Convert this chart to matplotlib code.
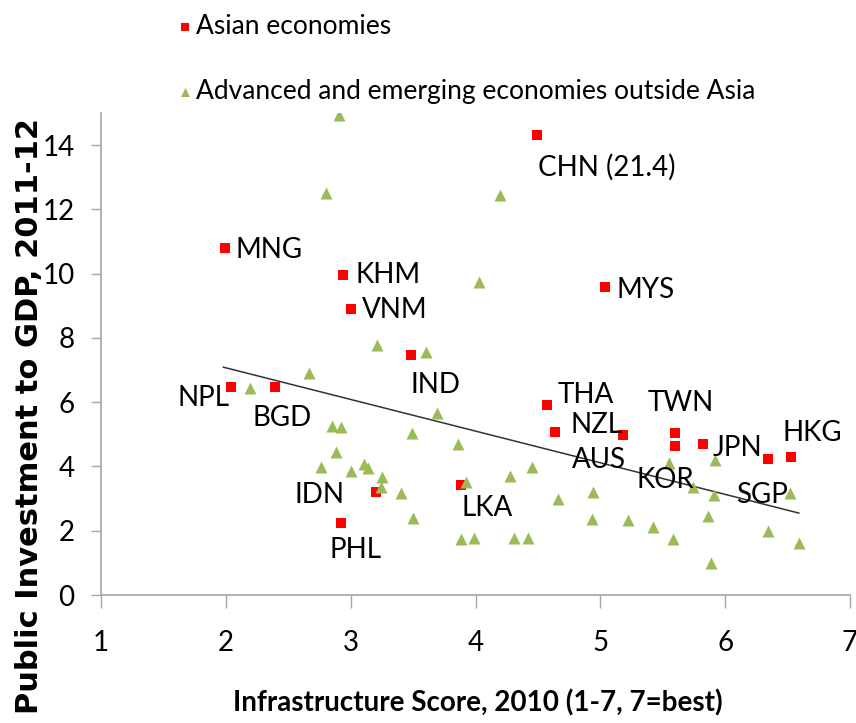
import matplotlib
matplotlib.use("Agg")
import matplotlib.pyplot as plt
from matplotlib import font_manager

# ─────────────────────────────────────────────────────────────
# Data
# ─────────────────────────────────────────────────────────────
asia_codes = ["MNG", "KHM", "VNM", "CHN", "MYS", "IND", "NPL", "BGD", "THA",
              "NZL", "AUS", "TWN", "KOR", "JPN", "SGP", "HKG", "LKA", "IDN", "PHL"]
asia_x = [1.99, 2.94, 3.00, 4.49, 5.04, 3.48, 2.04, 2.39, 4.57,
          4.64, 5.18, 5.60, 5.60, 5.82, 6.34, 6.53, 3.88, 3.20, 2.92]
asia_y = [10.8, 9.95, 8.9, 14.3, 9.6, 7.46, 6.47, 6.47, 5.9,
          5.07, 4.98, 5.04, 4.63, 4.70, 4.23, 4.29, 3.42, 3.2, 2.24]
asia_labels = ["MNG", "KHM", "VNM", "CHN (21.4)", "MYS", "IND", "NPL", "BGD", "THA",
               "NZL", "AUS", "TWN", "KOR", "JPN", "SGP", "HKG", "LKA", "IDN", "PHL"]

other_x = [2.91, 2.80, 4.20, 4.03, 3.21, 3.60, 2.67, 2.19, 3.69, 2.85,
           2.92, 3.49, 2.88, 2.76, 3.00, 3.11, 3.14, 3.25, 3.24, 3.40,
           3.50, 3.86, 3.92, 4.28, 4.45, 4.66, 4.94, 4.93, 5.22, 5.42,
           5.55, 5.58, 5.74, 5.92, 5.91, 5.86, 5.89, 6.34, 6.52, 6.59,
           3.88, 3.99, 4.31, 4.42]
other_y = [14.93, 12.5, 12.44, 9.74, 7.78, 7.56, 6.9, 6.43, 5.66, 5.26,
           5.22, 5.04, 4.45, 3.98, 3.86, 4.07, 3.95, 3.67, 3.36, 3.17,
           2.40, 4.70, 3.51, 3.70, 3.98, 2.99, 3.20, 2.36, 2.33, 2.11,
           4.10, 1.74, 3.36, 4.20, 3.11, 2.46, 1.00, 1.99, 3.17, 1.62,
           1.74, 1.77, 1.77, 1.77]

trend_x = [1.98, 6.59]
trend_y = [7.09, 2.55]

# label anchor positions (data coords)
label_x = [2.08, 3.04, 3.09, 4.50, 5.13, 3.48, 2.03, 2.21, 4.66,
           4.76, 4.77, 5.38, 5.29, 5.90, 6.09, 6.46, 3.89, 2.55, 2.83]
label_y = [10.73, 9.95, 8.86, 13.31, 9.49, 6.53, 6.13, 5.51, 6.22,
           5.29, 4.20, 5.97, 3.58, 4.57, 3.11, 5.04, 2.71, 3.11, 1.40]
label_ha = ["left"] * len(asia_codes)
label_ha[asia_codes.index("NPL")] = "right"

x_ticks = [1, 2, 3, 4, 5, 6, 7]
y_ticks = [0, 2, 4, 6, 8, 10, 12, 14]

# ─────────────────────────────────────────────────────────────
# Fonts: the original uses a narrow face, pick the narrowest we have
# ─────────────────────────────────────────────────────────────
names = {f.name for f in font_manager.fontManager.ttflist}
narrow = next((n for n in ["Liberation Sans Narrow", "Lato", "Roboto"] if n in names),
              "Liberation Sans")
plt.rcParams["font.family"] = [narrow, "DejaVu Sans"]
FS = 20

RED   = "#FF0000"
GREEN = "#9BBB59"
GRAY  = "#A6A6A6"

# ─────────────────────────────────────────────────────────────
# Figure
# ─────────────────────────────────────────────────────────────
fig = plt.figure(figsize=(8.56, 7.23), dpi=100)
ax = fig.add_axes([101 / 856, 1 - 595 / 723, (850 - 101) / 856, (595 - 113) / 723])

sq = ax.scatter(asia_x, asia_y, marker="s", s=60, color=RED, zorder=3,
                label="Asian economies", linewidths=0)
tr = ax.scatter(other_x, other_y, marker="^", s=75, color=GREEN, zorder=3,
                label="Advanced and emerging economies outside Asia", linewidths=0)
ax.plot(trend_x, trend_y, color="#333333", linewidth=1.1, zorder=2)

for lab, lx, ly, ha in zip(asia_labels, label_x, label_y, label_ha):
    ax.text(lx, ly, lab, ha=ha, va="center", fontsize=FS, zorder=4)

ax.set_xlim(1, 7)
ax.set_ylim(0, 15)
ax.set_xticks(x_ticks)
ax.set_yticks(y_ticks)
ax.tick_params(axis="x", length=9, width=1, color=GRAY, pad=16, labelsize=FS)
ax.tick_params(axis="y", length=7, width=1, color=GRAY, pad=12, labelsize=FS)
for s in ["top", "right"]:
    ax.spines[s].set_visible(False)
for s in ["left", "bottom"]:
    ax.spines[s].set_color(GRAY)
    ax.spines[s].set_linewidth(1.2)

fig.text(478 / 856, 1 - 703 / 723, "Infrastructure Score, 2010 (1-7, 7=best)",
         ha="center", va="center", fontsize=FS, fontweight="bold")
fig.text(30 / 856, 1 - 118 / 723, "Public Investment to GDP, 2011-12",
         rotation=90, ha="center", va="top", fontsize=22, fontweight="bold",
         family="DejaVu Sans")

fig.legend(handles=[sq, tr], loc="upper left", bbox_to_anchor=(178 / 856, 1 - 14 / 723),
           frameon=False, fontsize=19, handlelength=0.5, handletextpad=0.2,
           labelspacing=1.5, borderpad=0, borderaxespad=0, markerscale=0.75)

fig.savefig("out.png", dpi=100)
